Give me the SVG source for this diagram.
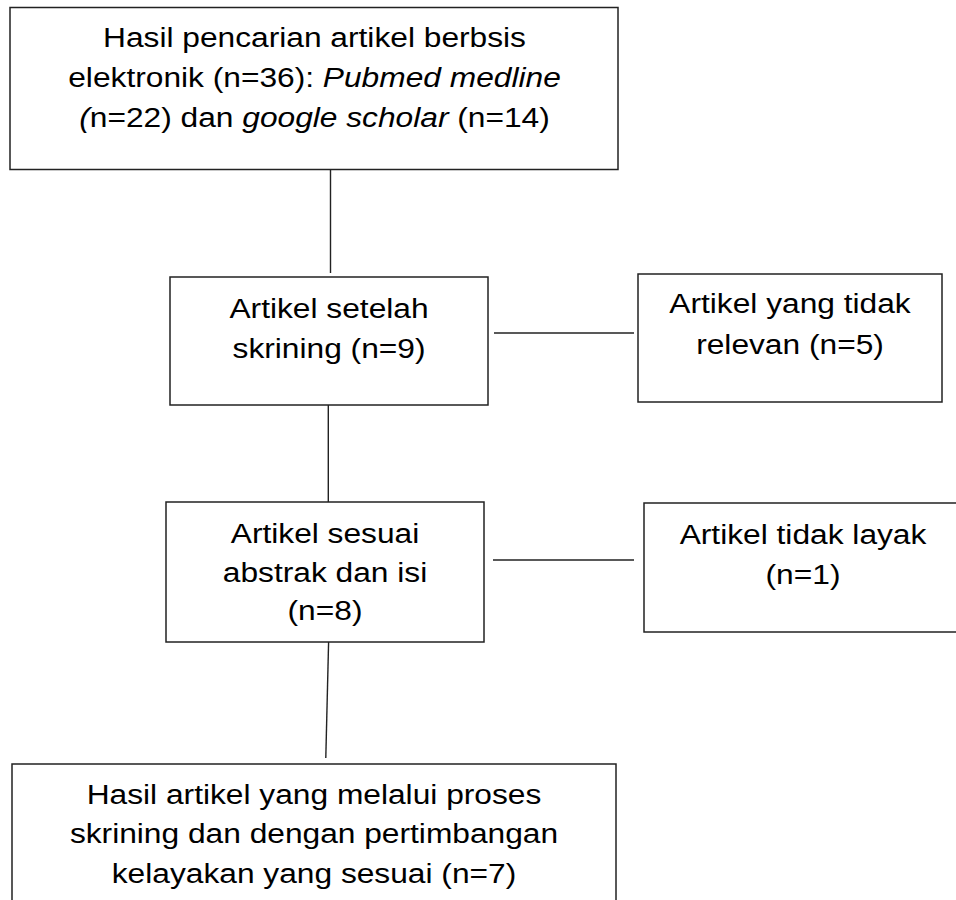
<svg xmlns="http://www.w3.org/2000/svg" width="956" height="900" viewBox="0 0 956 900">
<style>
.box{fill:#fff;stroke:#222;stroke-width:1.5}
.ln{stroke:#222;stroke-width:1.4;fill:none}
.t{font-family:"Liberation Sans",Arial,sans-serif;font-size:27px;fill:#000;text-anchor:middle}
.i{font-style:italic}
</style>
<rect width="956" height="900" fill="#fff"/>
<g id="connectors">
<line class="ln" x1="330.5" y1="169" x2="330.5" y2="273"/>
<line class="ln" x1="494" y1="333" x2="634" y2="333"/>
<line class="ln" x1="328.3" y1="405" x2="328.3" y2="502"/>
<line class="ln" x1="493" y1="560" x2="634" y2="560"/>
<line class="ln" x1="328.6" y1="642" x2="325.8" y2="758"/>
</g>
<g id="node-hasil-pencarian">
<rect class="box" x="10" y="7.5" width="608" height="162"/>
<g transform="translate(314.5 0) scale(1.175 1)">
<text class="t" x="0" y="47">Hasil pencarian artikel berbsis</text>
<text class="t" x="0" y="87">elektronik (n=36): <tspan class="i">Pubmed medline</tspan></text>
<text class="t" x="0" y="127"><tspan class="i">(</tspan>n=22) dan <tspan class="i">google scholar</tspan> (n=14)</text>
</g>
</g>
<g id="node-setelah-skrining">
<rect class="box" x="170" y="277" width="318" height="128"/>
<g transform="translate(329 0) scale(1.175 1)">
<text class="t" x="0" y="318">Artikel setelah</text>
<text class="t" x="0" y="358">skrining (n=9)</text>
</g>
</g>
<g id="node-tidak-relevan">
<rect class="box" x="638" y="274" width="304" height="128"/>
<g transform="translate(790 0) scale(1.175 1)">
<text class="t" x="0" y="313">Artikel yang tidak</text>
<text class="t" x="0" y="354">relevan (n=5)</text>
</g>
</g>
<g id="node-sesuai-abstrak">
<rect class="box" x="166" y="502" width="318" height="140"/>
<g transform="translate(325 0) scale(1.175 1)">
<text class="t" x="0" y="543">Artikel sesuai</text>
<text class="t" x="0" y="582">abstrak dan isi</text>
<text class="t" x="0" y="620">(n=8)</text>
</g>
</g>
<g id="node-tidak-layak">
<rect class="box" x="644" y="503" width="320" height="129"/>
<g transform="translate(803 0) scale(1.175 1)">
<text class="t" x="0" y="544">Artikel tidak layak</text>
<text class="t" x="0" y="584">(n=1)</text>
</g>
</g>
<g id="node-hasil-akhir">
<rect class="box" x="12" y="764" width="604" height="160"/>
<g transform="translate(314 0) scale(1.175 1)">
<text class="t" x="0" y="804">Hasil artikel yang melalui proses</text>
<text class="t" x="0" y="843">skrining dan dengan pertimbangan</text>
<text class="t" x="0" y="883">kelayakan yang sesuai (n=7)</text>
</g>
</g>
</svg>
